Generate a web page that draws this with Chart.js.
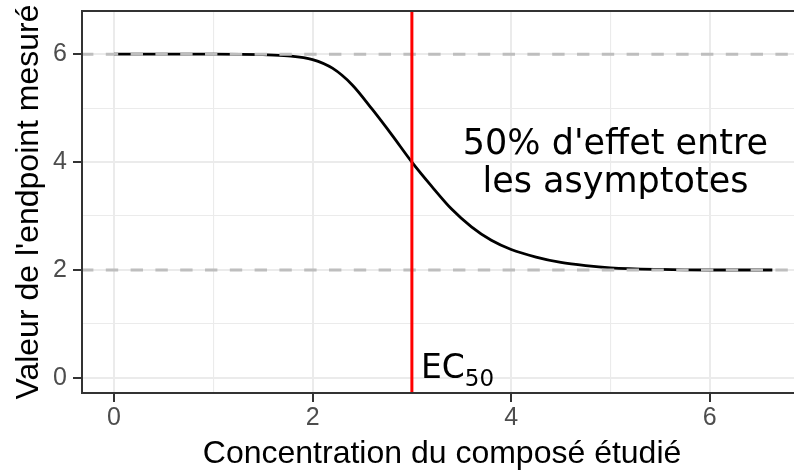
<!DOCTYPE html>
<html><head><meta charset="utf-8">
<script src="https://cdn.jsdelivr.net/npm/chart.js@4"></script>
<style>
html,body{margin:0;padding:0;background:#fff;overflow:hidden;width:794px;height:475px}
</style>
</head><body><canvas id="c" width="794" height="475"></canvas>
<script>
// ---- data ----
const concentration = [0, 0.5, 1.0, 1.5, 1.75, 2.0, 2.2, 2.4, 2.6, 2.8, 3.0, 3.2, 3.4, 3.6, 3.8, 4.0, 4.25, 4.5, 4.75, 5.0, 5.5, 6.0, 6.63];
const endpoint      = [6.0, 6.0, 6.0, 5.99, 5.97, 5.90, 5.74, 5.43, 4.98, 4.50, 4.00, 3.55, 3.13, 2.80, 2.55, 2.38, 2.24, 2.14, 2.08, 2.04, 2.01, 2.00, 2.00];
const asymptotes = [6, 2];
const ec50 = 3;
const xMajorTicks = [0, 2, 4, 6];
const xMinorTicks = [1, 3, 5];
const yMajorTicks = [0, 2, 4, 6];
const yMinorTicks = [1, 3, 5];
const xPanel = [-0.322, 6.97];   // full panel range (right part cropped in the reference)
const xLimits = [-0.322, 6.848]; // visible range
const yLimits = [-0.28, 6.8];
const ec50Text = ['EC', '50'];
const effectText = ["50% d'effet entre", 'les asymptotes'];
const xTitle = 'Concentration du composé étudié';
const yTitle = "Valeur de l'endpoint mesuré";

const GRID = '#EBEBEB', AXIS = '#333333', TICKTXT = '#4D4D4D';
const SANS = "'Liberation Sans', Arial, sans-serif";
const DEJAVU = "'DejaVu Sans', sans-serif";

function setTicks(major, minor) {
  return function (scale) {
    scale.ticks = major.concat(minor).sort((a, b) => a - b).map(v => ({ value: v }));
  };
}
function gridOpts(major) {
  return {
    color: GRID,
    lineWidth: c => major.includes(c.tick && c.tick.value) ? 2 : 1.1,
    tickColor: c => major.includes(c.tick && c.tick.value) ? AXIS : 'rgba(0,0,0,0)',
    tickLength: 9,
    tickWidth: 2
  };
}

const refPlugin = {
  id: 'refLines',
  afterDatasetsDraw(chart) {
    const { ctx, chartArea: a, scales: { x, y } } = chart;
    ctx.save();
    ctx.beginPath(); ctx.rect(a.left, a.top, a.right - a.left, a.bottom - a.top); ctx.clip();
    ctx.strokeStyle = '#BEBEBE'; ctx.lineWidth = 3; ctx.setLineDash([12.4, 12.4]); ctx.lineCap = 'butt';
    asymptotes.forEach(v => {
      const py = y.getPixelForValue(v);
      ctx.beginPath(); ctx.moveTo(a.left - 1, py); ctx.lineTo(a.right, py); ctx.stroke();
    });
    ctx.setLineDash([]);
    const px = x.getPixelForValue(ec50);
    ctx.strokeStyle = '#FF0000'; ctx.lineWidth = 3;
    ctx.beginPath(); ctx.moveTo(px, a.top); ctx.lineTo(px, a.bottom); ctx.stroke();
    ctx.restore();

    ctx.save();
    ctx.fillStyle = '#000';
    ctx.textBaseline = 'alphabetic';
    ctx.textAlign = 'left';
    ctx.font = '33px ' + DEJAVU;
    const ex = px + 9, ey = y.getPixelForValue(0);
    ctx.fillText(ec50Text[0], ex, ey);
    const w = ctx.measureText(ec50Text[0]).width;
    ctx.font = '23px ' + DEJAVU;
    ctx.fillText(ec50Text[1], ex + w, ey + 8);

    ctx.font = '35px ' + DEJAVU;
    ctx.textAlign = 'center';
    const cx = x.getPixelForValue(5.05), cy = y.getPixelForValue(4.15);
    ctx.fillText(effectText[0], cx, cy);
    ctx.fillText(effectText[1], cx, cy + 38);
    ctx.restore();
  },
  afterDraw(chart) {
    const { ctx, chartArea: a, scales: { x } } = chart;
    ctx.save();
    ctx.strokeStyle = AXIS; ctx.lineWidth = 2;
    ctx.beginPath();
    ctx.moveTo(a.right + 2, a.top); ctx.lineTo(a.left, a.top); ctx.lineTo(a.left, a.bottom); ctx.lineTo(a.right + 2, a.bottom);
    ctx.stroke();
    // x axis title, centred on the full (cropped) panel
    ctx.fillStyle = '#000';
    ctx.font = '32px ' + SANS;
    ctx.textAlign = 'center'; ctx.textBaseline = 'alphabetic';
    ctx.fillText(xTitle, x.getPixelForValue((xPanel[0] + xPanel[1]) / 2) - 2, 463);
    ctx.restore();
  }
};

new Chart(document.getElementById('c'), {
  type: 'line',
  data: {
    datasets: [{
      data: concentration.map((c, i) => ({ x: c, y: endpoint[i] })),
      borderColor: '#000', borderWidth: 2.8, pointRadius: 0,
      cubicInterpolationMode: 'monotone', fill: false
    }]
  },
  options: {
    responsive: false, animation: false,
    layout: { padding: { left: 0, top: 11, right: 0, bottom: 0 } },
    plugins: { legend: { display: false }, tooltip: { enabled: false } },
    scales: {
      x: {
        type: 'linear', min: xLimits[0], max: xLimits[1],
        afterBuildTicks: setTicks(xMajorTicks, xMinorTicks),
        afterFit: s => { s.height = 82; s.paddingLeft = 0; s.paddingRight = 0; },
        grid: gridOpts(xMajorTicks),
        border: { display: false },
        ticks: {
          autoSkip: false, maxRotation: 0, padding: 1,
          color: TICKTXT, font: { family: SANS, size: 25 },
          callback: v => xMajorTicks.includes(v) ? String(v) : ''
        },
        title: { display: false, text: xTitle }
      },
      y: {
        type: 'linear', min: yLimits[0], max: yLimits[1],
        afterBuildTicks: setTicks(yMajorTicks, yMinorTicks),
        afterFit: s => { s.width = 82; s.paddingTop = 0; s.paddingBottom = 0; },
        grid: gridOpts(yMajorTicks),
        border: { display: false },
        ticks: {
          autoSkip: false, padding: 6,
          color: TICKTXT, font: { family: SANS, size: 25 },
          callback: v => yMajorTicks.includes(v) ? String(v) : ''
        },
        title: { display: true, text: yTitle, color: '#000', font: { family: SANS, size: 32 }, padding: { top: 10, bottom: 0 } }
      }
    }
  },
  plugins: [refPlugin]
});
</script>
</body></html>
